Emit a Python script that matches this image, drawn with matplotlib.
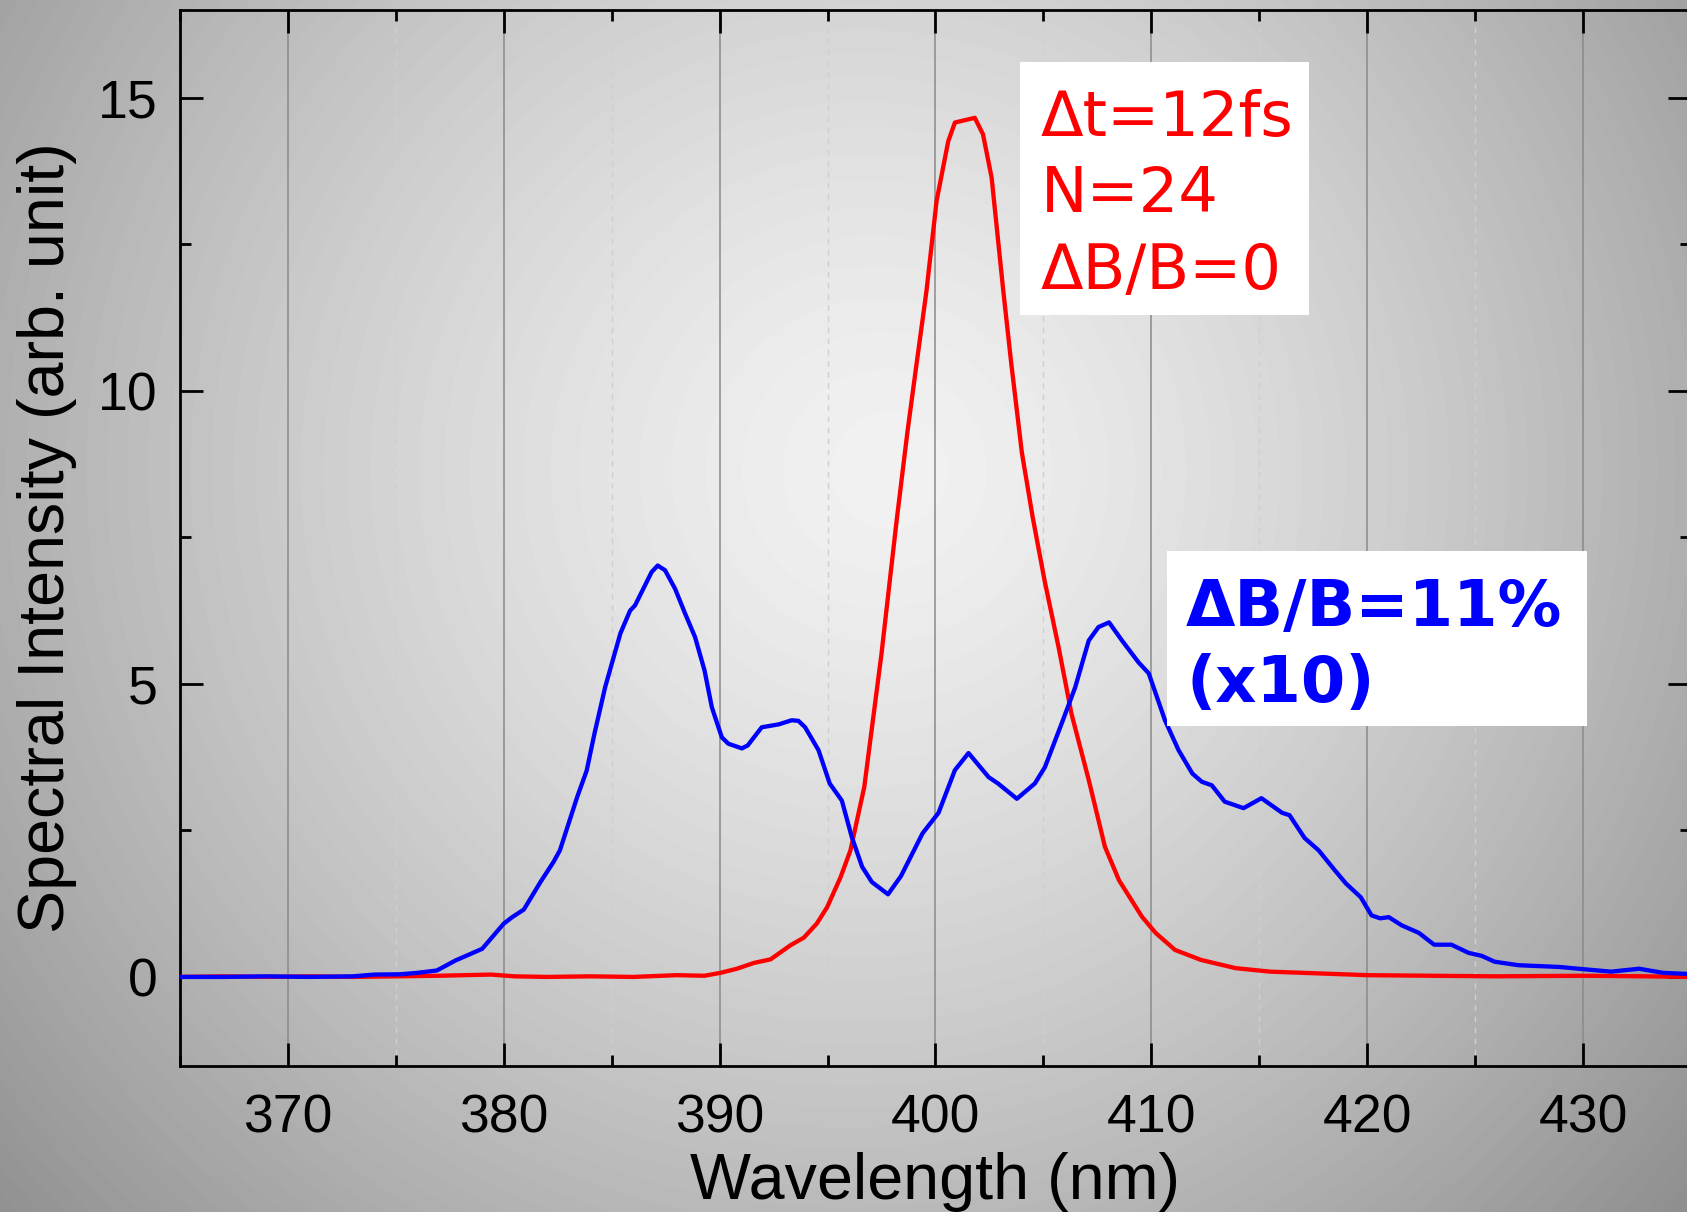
import numpy as np
import matplotlib
matplotlib.use("Agg")
import matplotlib.pyplot as plt
from matplotlib.patches import Rectangle

plt.rcParams['font.family'] = ['Liberation Sans', 'DejaVu Sans']

# spectrum, dB/B = 0 (red)
red_nm = [365, 367, 369, 371, 373, 375, 377, 379.4, 380.5, 382, 384, 386, 388, 389.3,
          390.04, 390.8, 391.6, 392.36, 393.28, 393.9, 394.5, 394.98, 395.6, 396.06,
          396.7, 397.5, 398.2, 398.7, 399.1, 399.58, 400.05, 400.59, 400.9, 401.36,
          401.82, 402.2, 402.6, 403.14, 403.5, 404.0, 404.5, 405.05, 405.7, 406.3,
          407.1, 407.85, 408.5, 409.56, 410.2, 411.1, 412.3, 413.9, 415.5, 417, 420,
          423, 426, 430, 433, 435]
red_val = [0.0, 0.01, 0.0, 0.01, 0.0, 0.01, 0.02, 0.04, 0.01, 0.0, 0.01, 0.0, 0.03, 0.02,
           0.07, 0.14, 0.24, 0.30, 0.54, 0.67, 0.91, 1.19, 1.70, 2.16,
           3.24, 5.52, 7.79, 9.30, 10.4, 11.7, 13.24, 14.26, 14.58, 14.62,
           14.66, 14.38, 13.64, 11.71, 10.5, 8.95, 7.85, 6.77, 5.63, 4.49,
           3.36, 2.22, 1.65, 1.03, 0.75, 0.46, 0.29, 0.15, 0.09, 0.07, 0.03,
           0.02, 0.01, 0.02, 0.01, 0.0]

# spectrum, dB/B = 11 %, scaled x10 (blue)
blue_nm = [365, 367, 369, 371, 373, 374, 375.2, 376.0, 376.9, 377.76, 379.0, 380.0,
           380.39, 380.93, 381.7, 382.3, 382.6, 383.4, 383.84, 384.2, 384.7, 385.4,
           385.85, 386.08, 386.85, 387.13, 387.47, 387.94, 388.4, 388.86, 389.3, 389.64,
           390.1, 390.4, 391.03, 391.3, 391.95, 392.74, 393.34, 393.65, 393.96, 394.58,
           395.1, 395.66, 396.12, 396.6, 397.05, 397.8, 398.4, 399.4, 400.14, 400.9,
           401.53, 402.46, 402.9, 403.77, 404.6, 405.07, 405.85, 406.47, 407.1, 407.55,
           408.04, 408.64, 409.4, 409.88, 410.63, 411.26, 411.9, 412.34, 412.8, 413.4,
           414.27, 415.1, 416.06, 416.4, 417.1, 417.75, 418.5, 419.0, 419.7, 420.2,
           420.6, 421.0, 421.6, 422.4, 423.1, 423.9, 424.7, 425.3, 425.9, 427.0, 428.9,
           430.07, 431.3, 432.6, 433.7, 434.9]
blue_val = [0.0, 0.0, 0.01, 0.0, 0.01, 0.04, 0.045, 0.07, 0.11, 0.28, 0.48, 0.91,
            1.02, 1.15, 1.62, 1.96, 2.16, 3.07, 3.52, 4.15, 4.95, 5.86,
            6.25, 6.34, 6.91, 7.02, 6.94, 6.62, 6.20, 5.80, 5.23, 4.60,
            4.09, 3.98, 3.90, 3.95, 4.26, 4.31, 4.38, 4.37, 4.26, 3.87,
            3.30, 3.01, 2.39, 1.88, 1.62, 1.41, 1.72, 2.45, 2.80, 3.53,
            3.82, 3.41, 3.30, 3.04, 3.30, 3.58, 4.33, 4.94, 5.74, 5.97,
            6.05, 5.74, 5.37, 5.18, 4.38, 3.87, 3.47, 3.33, 3.27, 2.99,
            2.88, 3.05, 2.80, 2.76, 2.37, 2.16, 1.82, 1.60, 1.36, 1.05,
            1.00, 1.02, 0.88, 0.75, 0.55, 0.55, 0.41, 0.36, 0.26, 0.20, 0.17,
            0.13, 0.09, 0.14, 0.07, 0.05]

x_major = [370, 380, 390, 400, 410, 420, 430]
y_major = [0, 5, 10, 15]

W, H = 1687, 1212
fig = plt.figure(figsize=(W / 100, H / 100), dpi=100)

# grey radial shading behind everything
bg = fig.add_axes([0, 0, 1, 1], zorder=-10)
yy, xx = np.mgrid[0:H, 0:W]
r = np.hypot(xx - 900, yy - 470)
shade = 0.975 - 0.33 * (r / 1000) ** 1.35 - 0.05 * xx / W
bg.imshow(np.clip(shade, 0, 1), cmap='gray', vmin=0, vmax=1, aspect='auto',
          extent=[0, 1, 0, 1], origin='upper')
bg.set_axis_off()

ax = fig.add_axes([180 / W, 1 - 1066 / H, 1511 / W, 1056 / H])
ax.set_facecolor('none')

ax.plot(red_nm, red_val, color='red', lw=3.1, zorder=3)
ax.plot(blue_nm, blue_val, color='blue', lw=3.1, zorder=4)

ax.set_xlim(365, 435)
ax.set_ylim(-1.52, 16.5)
ax.set_xticks(x_major)
ax.set_xticks(np.arange(365, 436, 5), minor=True)
ax.set_yticks(y_major)
ax.set_yticks(np.arange(-0, 16.5, 2.5), minor=True)

ax.grid(True, axis='x', which='major', color='#8a8a8a', lw=1.1)
ax.grid(True, axis='x', which='minor', color='#cfcfcf', lw=1.0, ls=(0, (4, 4)))
ax.set_axisbelow(True)

for s in ax.spines.values():
    s.set_linewidth(2.0)
ax.tick_params(which='both', direction='in', top=True, right=True, width=2.0)
ax.tick_params(which='major', length=16.5)
ax.tick_params(which='minor', length=8)
ax.tick_params(axis='x', which='major', labelsize=38.5, pad=20)
ax.tick_params(axis='y', which='major', labelsize=38.5, pad=16)

ax.set_xlabel('Wavelength (nm)', fontsize=46.5)
ax.set_ylabel('Spectral Intensity (arb. unit)', fontsize=46.5)
ax.xaxis.set_label_coords(0.5, -0.081)
ax.yaxis.set_label_coords(-0.068, 0.5)

# annotation boxes
fig.patches.append(Rectangle((1020 / W, 1 - 315 / H), 289 / W, 253 / H,
                             transform=fig.transFigure, fc='white', ec='none', zorder=5))
fig.text(1041 / W, 1 - 89 / H, 'Δt=12fs\nN=24\nΔB/B=0', color='red', fontsize=44.8,
         family='DejaVu Sans', va='top', ha='left', linespacing=1.35, zorder=6)

fig.patches.append(Rectangle((1167 / W, 1 - 726 / H), 420 / W, 175 / H,
                             transform=fig.transFigure, fc='white', ec='none', zorder=5))
fig.text(1186 / W, 1 - 577 / H, 'ΔB/B=11%\n(x10)', color='blue', fontsize=46,
         family='DejaVu Sans', weight='bold', va='top', ha='left', linespacing=1.29,
         zorder=6)

fig.savefig('out.png', dpi=100)
